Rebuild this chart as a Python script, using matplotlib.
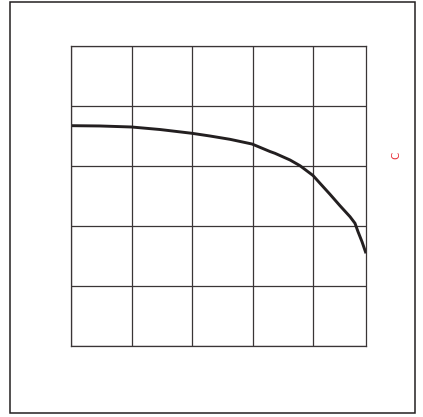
import numpy as np
import matplotlib.pyplot as plt
from matplotlib.patches import Rectangle

# curve
x = [0, 0.479, 1.0, 1.471, 2.0, 2.298, 2.628, 2.992, 3.289, 3.372, 3.62, 3.785,
     4.0, 4.116, 4.281, 4.446, 4.612, 4.694, 4.744, 4.81, 4.876]
y = [3.666, 3.661, 3.644, 3.602, 3.539, 3.494, 3.439, 3.361, 3.236, 3.206, 3.095, 3.0,
     2.837, 2.707, 2.524, 2.334, 2.151, 2.042, 1.902, 1.735, 1.542]
x_grid = [0, 1, 2, 3, 4]
y_grid = [0, 1, 2, 3, 4, 5]
label = 'C'

fig = plt.figure(figsize=(4.23, 4.17), dpi=100)
fig.patches.append(Rectangle((10 / 423, 1 - 413 / 417), 405 / 423, 411 / 417,
                             transform=fig.transFigure, fill=False,
                             edgecolor='#231f20', linewidth=1.1))

ax = fig.add_axes([71 / 423, 1 - 346 / 417, 295 / 423, 300.5 / 417])
ax.set_xlim(0, 4.876)
ax.set_ylim(0, 5)
ax.set_xticks(x_grid)
ax.set_yticks(y_grid)
ax.grid(True, color='#3a3536', linewidth=0.9)
ax.tick_params(length=0, labelbottom=False, labelleft=False)
for s in ax.spines.values():
    s.set_color('#3a3536')
    s.set_linewidth(0.9)

ax.plot(x, y, color='#231f20', linewidth=2.1, solid_capstyle='butt',
        solid_joinstyle='round')

fig.text(396 / 423, 1 - 155 / 417, label, color='#e8303a', fontsize=7.5,
         rotation=90, ha='center', va='center')

fig.savefig('out.png', dpi=100)
